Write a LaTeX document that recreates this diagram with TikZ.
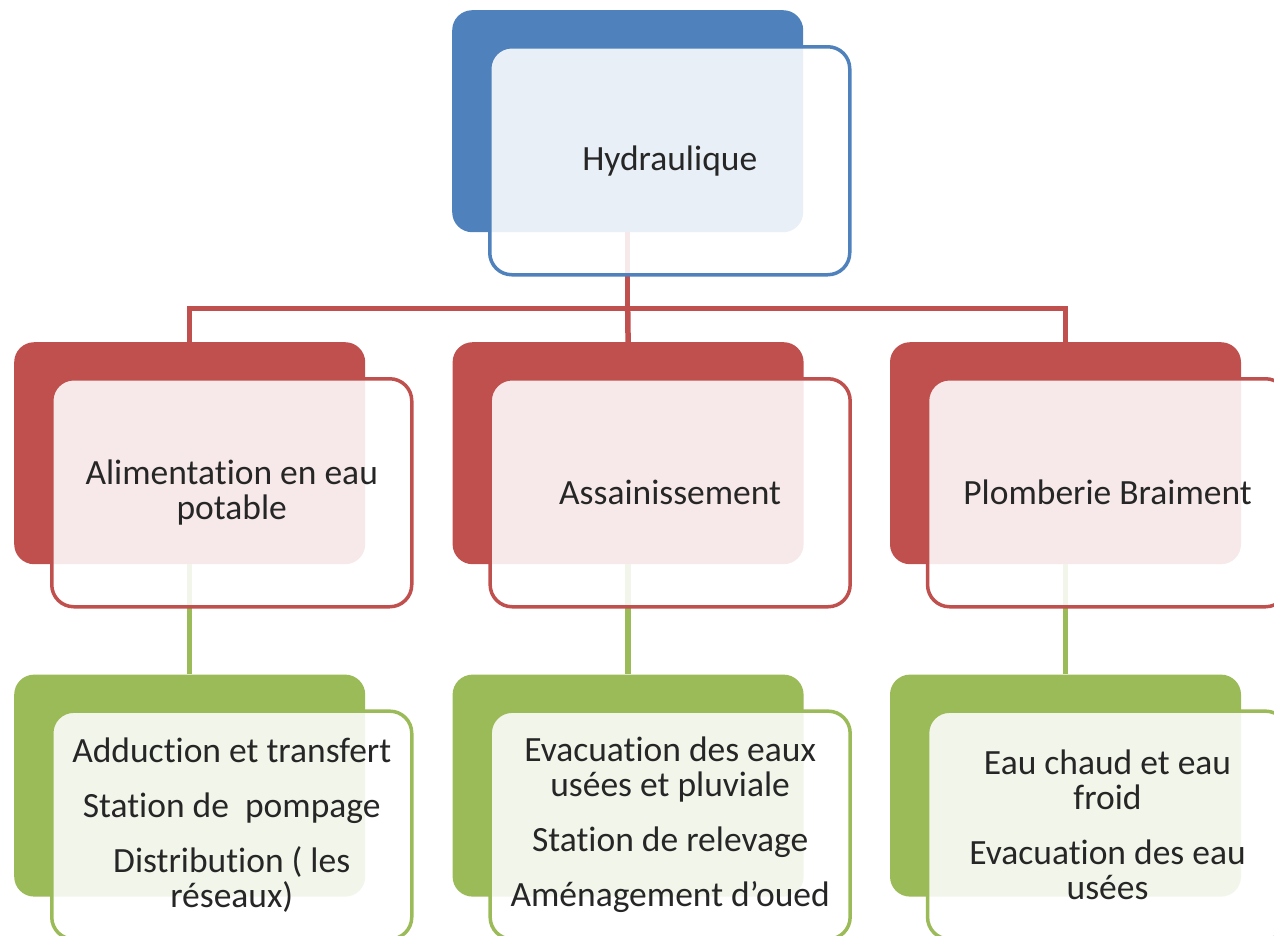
\documentclass[tikz,border=0pt]{standalone}
\usepackage{fontspec}
\setmainfont{Carlito}[Ligatures=NoCommon]
\usepackage{tikz}
\usetikzlibrary{positioning}
\usepackage{xcolor}
\definecolor{hblue}{HTML}{4F81BD}
\definecolor{hred}{HTML}{C0504D}
\definecolor{hgreen}{HTML}{9BBB59}
\tikzset{
backbox/.style = {rectangle, rounded corners=20pt, inner sep=0pt, minimum width=351pt, minimum height=222pt, anchor=north west},% carte du fond
frontbox/.style = {rectangle, rounded corners=22pt, line width=3.5pt, fill=white, fill opacity=0.88, text opacity=1, text=black!85, minimum width=360pt, minimum height=228pt, align=center, font=\fontsize{35.5}{35}\selectfont},% carte avant, texte
link/.style = {line width=5.5pt}% liaison
}

\begin{document}
\begin{tikzpicture}[x=1pt,y=-1pt]
  \useasboundingbox (0,0) rectangle (1274,935);
  \clip (0,0) rectangle (1274,935);
  % cartes du fond
  \node [backbox, fill=hblue] (hydb) at (452,10) {};
  \node [backbox, fill=hred] (alimb) at (14,342) {};
  \node [backbox, fill=hred, right=87pt of alimb] (assb) {};
  \node [backbox, fill=hred, right=86pt of assb] (plomb) {};
  \node [backbox, fill=hgreen, below=110pt of alimb] (adducb) {};
  \node [backbox, fill=hgreen, below=110pt of assb] (evacb) {};
  \node [backbox, fill=hgreen, below=110pt of plomb] (eaub) {};
  % liaisons
  \draw [link, hred] (hydb.south) -- ++(0,76) coordinate (bus);
  \draw [link, hred] (bus) -| (alimb.north);
  \draw [link, hred] (bus) -| (plomb.north);
  \draw [link, hred] (bus) -- (assb.north);
  \draw [link, hgreen] (alimb.south) -- (adducb.north);
  \draw [link, hgreen] (assb.south) -- (evacb.north);
  \draw [link, hgreen] (plomb.south) -- (eaub.north);
  % cartes avant
  \node [frontbox, draw=hblue, below right=35pt and 36pt of hydb.north west] (hyd) {Hydraulique};
  \node [frontbox, draw=hred, below right=35pt and 36pt of alimb.north west] (alim) {Alimentation en eau\\ potable};
  \node [frontbox, draw=hred, below right=35pt and 36pt of assb.north west] (ass) {Assainissement};
  \node [frontbox, draw=hred, below right=35pt and 36pt of plomb.north west] (plom) {Plomberie Braiment};
  \node [frontbox, draw=hgreen, below right=35pt and 36pt of adducb.north west] (adduc) {Adduction et transfert\\[20pt] Station de~ pompage\\[20pt] Distribution ( les\\ réseaux)};
  \node [frontbox, draw=hgreen, below right=35pt and 36pt of evacb.north west] (evac) {Evacuation des eaux\\ usées et pluviale\\[20pt] Station de relevage\\[20pt] Aménagement d’oued};
  \node [frontbox, draw=hgreen, below right=35pt and 36pt of eaub.north west] (eau) {Eau chaud et eau\\ froid\\[20pt] Evacuation des eau\\ usées};
\end{tikzpicture}
\end{document}
